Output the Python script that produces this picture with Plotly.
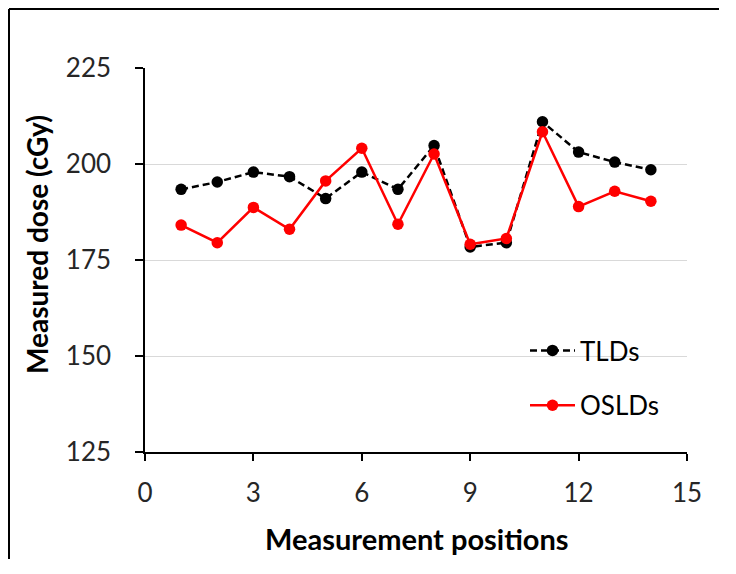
import plotly.graph_objects as go

positions = list(range(1, 15))
tld = [193.4, 195.3, 197.9, 196.7, 191.0, 197.9, 193.4, 204.8, 178.4, 179.5, 211.0, 203.1, 200.5, 198.5]
osld = [184.1, 179.5, 188.7, 183.0, 195.6, 204.1, 184.3, 202.6, 179.1, 180.6, 208.4, 188.9, 192.9, 190.3]
y_ticks = [125, 150, 175, 200, 225]
x_ticks = [0, 3, 6, 9, 12, 15]

FONT = "Lato, Carlito, Calibri, sans-serif"
TXT = "#262626"

fig = go.Figure()
fig.add_trace(go.Scatter(
    x=positions, y=tld, mode="lines+markers", name="TLDs",
    line=dict(color="black", width=2.5, dash="7px,4px"),
    marker=dict(color="black", size=11.5), legendgroup="a"))
fig.add_trace(go.Scatter(
    x=positions, y=osld, mode="lines+markers", name="OSLDs",
    line=dict(color="#ff0000", width=2.5),
    marker=dict(color="#ff0000", size=11.5), legendgroup="b"))

# page offset of the figure (browser body margin)
OFF = 8
W, H = 712, 552
L, R, T, B = 137, 33, 60, 108
pw, ph = W - L - R, H - T - B

def px_x(p):
    # p: page x pixel
    return (p - OFF - L) / pw

def px_y(p):
    # p: page y pixel
    return (H - B - (p - OFF)) / ph

fig.update_layout(
    width=W, height=H,
    margin=dict(l=L, r=R, t=T, b=B),
    paper_bgcolor="white", plot_bgcolor="white",
    font=dict(family=FONT, size=26, color=TXT),
    showlegend=True,
    legend=dict(x=px_x(525), y=px_y(327), xanchor="left", yanchor="top",
                bgcolor="rgba(0,0,0,0)", font=dict(size=26, color="black"),
                tracegroupgap=18, itemwidth=45),
    xaxis=dict(range=[0, 15], tickvals=x_ticks, showgrid=False,
               showline=True, linecolor="black", linewidth=1.5,
               ticks="outside", ticklen=7, tickcolor="black", tickwidth=1.5,
               ticklabelstandoff=10, zeroline=False,
               tickfont=dict(size=26, color=TXT)),
    yaxis=dict(range=[125, 225], tickvals=y_ticks, showgrid=True,
               gridcolor="#d9d9d9", gridwidth=1,
               showline=True, linecolor="black", linewidth=1.5,
               ticks="outside", ticklen=8, tickcolor="black", tickwidth=1.5,
               ticklabelstandoff=19, zeroline=False,
               tickfont=dict(size=26, color=TXT)),
    annotations=[
        dict(text="<b>Measured dose (cGy)</b>", xref="paper", yref="paper",
             x=px_x(37), y=px_y(245), textangle=-90, showarrow=False,
             xanchor="center", yanchor="middle",
             font=dict(size=28, color="black", family=FONT)),
        dict(text="<b>Measurement positions</b>", xref="paper", yref="paper",
             x=px_x(417), y=px_y(538), showarrow=False,
             xanchor="center", yanchor="middle",
             font=dict(size=29, color="black", family=FONT)),
    ],
    shapes=[
        dict(type="line", xref="paper", yref="paper",
             x0=px_x(9), x1=px_x(9), y0=px_y(559), y1=px_y(9),
             line=dict(color="black", width=2), layer="above"),
        dict(type="line", xref="paper", yref="paper",
             x0=px_x(9), x1=px_x(719), y0=px_y(9), y1=px_y(9),
             line=dict(color="black", width=2), layer="above"),
    ],
)

fig.write_html("out.html")
